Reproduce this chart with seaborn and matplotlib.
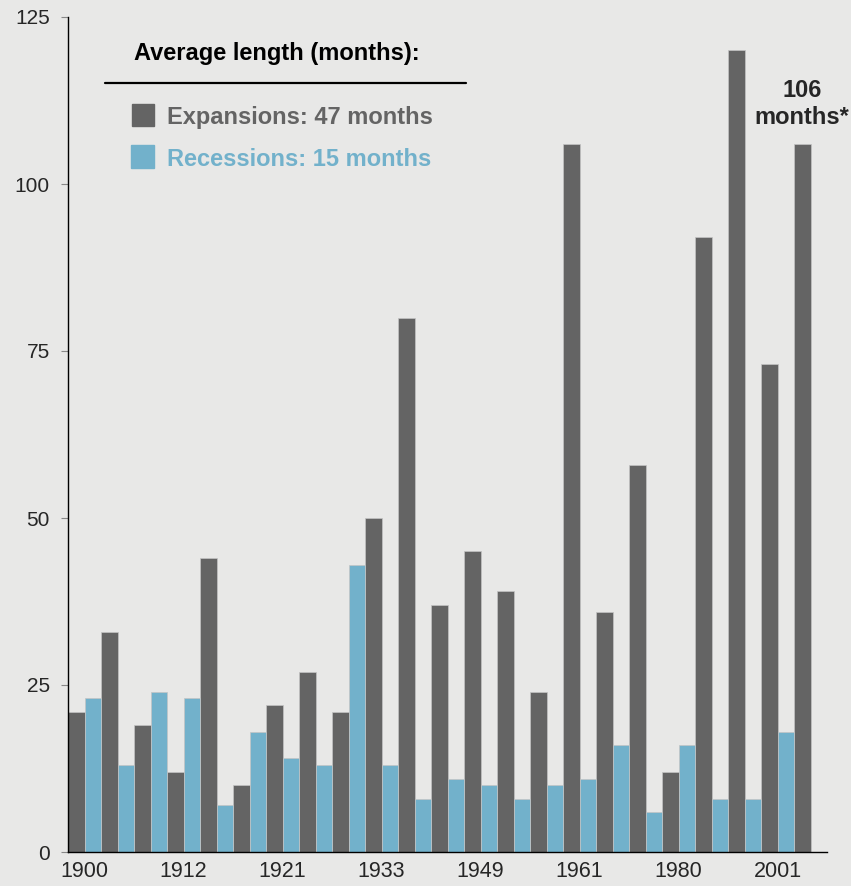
import numpy as np
import matplotlib.pyplot as plt
import matplotlib.patches as mpatches
import pandas as pd
import seaborn as sns

# business cycle lengths in months, in chronological order (expansion, recession, ...)
expansions = [21, 33, 19, 12, 44, 10, 22, 27, 21, 50, 80, 37, 45, 39, 24, 106, 36, 58, 12, 92, 120, 73, 106]
recessions = [23, 13, 24, 23, 7, 18, 14, 13, 43, 13, 8, 11, 10, 8, 10, 11, 16, 6, 16, 8, 8, 18]
tick_labels = ['1900', '1912', '1921', '1933', '1949', '1961', '1980', '2001']
tick_bars = [1, 7, 13, 19, 25, 31, 37, 43]   # label sits on left edge of these bars

dark = '#646464'
blue = '#72b1cb'
bg = '#e8e8e7'

# interleave the two series
months = []
phase = []
for i in range(len(expansions)):
    months.append(expansions[i])
    phase.append('Expansion')
    if i < len(recessions):
        months.append(recessions[i])
        phase.append('Recession')
df = pd.DataFrame({'pos': np.arange(len(months)), 'months': months, 'phase': phase})

sns.set_style('white')
plt.rcParams['font.family'] = ['Liberation Sans', 'DejaVu Sans']

W, H = 851, 886
fig = plt.figure(figsize=(W / 100, H / 100), dpi=100, facecolor=bg)
ax = fig.add_axes([68 / W, 34 / H, (827 - 68) / W, (852 - 17) / H])
ax.set_facecolor(bg)

sns.barplot(data=df, x='pos', y='months', hue='phase', dodge=False, width=1.0,
            palette={'Expansion': dark, 'Recession': blue}, legend=False, saturation=1,
            edgecolor='#c4c4c4', linewidth=0.5, ax=ax)

ax.set_xlim(-0.5, 45.5)
ax.set_ylim(0, 125)
ax.set_yticks([0, 25, 50, 75, 100, 125])
ax.set_xticks([b - 0.5 for b in tick_bars])
ax.set_xticklabels(tick_labels)
ax.set_xlabel('')
ax.set_ylabel('')
ax.tick_params(axis='y', length=5, width=0.8, color='#888888', labelsize=15, pad=8, left=True)
ax.tick_params(axis='x', length=0, labelsize=15.5, pad=6.5)
for s in ['top', 'right']:
    ax.spines[s].set_visible(False)
for s in ['left', 'bottom']:
    ax.spines[s].set_color('black')
    ax.spines[s].set_linewidth(1.0)

# annotation over the current expansion
ax.annotate('106\nmonths*', xy=(len(months) - 1, expansions[-1]), xytext=(0, 11),
            textcoords='offset points', ha='center', va='bottom',
            fontsize=17, fontweight='bold', linespacing=1.2)

# legend block drawn in figure pixels
def fx(px):
    return px / W

def fy(py):
    return 1 - py / H

fig.text(fx(277), fy(60), 'Average length (months):', ha='center', va='baseline',
         fontsize=17, fontweight='bold', color='black')
fig.add_artist(plt.Line2D([fx(105), fx(466)], [fy(83), fy(83)], color='black', lw=1.6))
fig.add_artist(mpatches.Rectangle((fx(132), fy(126)), 22 / W, 22 / H, color=dark,
                                  transform=fig.transFigure))
fig.add_artist(mpatches.Rectangle((fx(131), fy(168)), 23 / W, 23 / H, color=blue,
                                  transform=fig.transFigure))
fig.text(fx(167), fy(124), 'Expansions: 47 months', ha='left', va='baseline',
         fontsize=17, fontweight='bold', color=dark)
fig.text(fx(167), fy(166.5), 'Recessions: 15 months', ha='left', va='baseline',
         fontsize=17, fontweight='bold', color=blue)

fig.savefig('out.png', dpi=100, facecolor=bg)
